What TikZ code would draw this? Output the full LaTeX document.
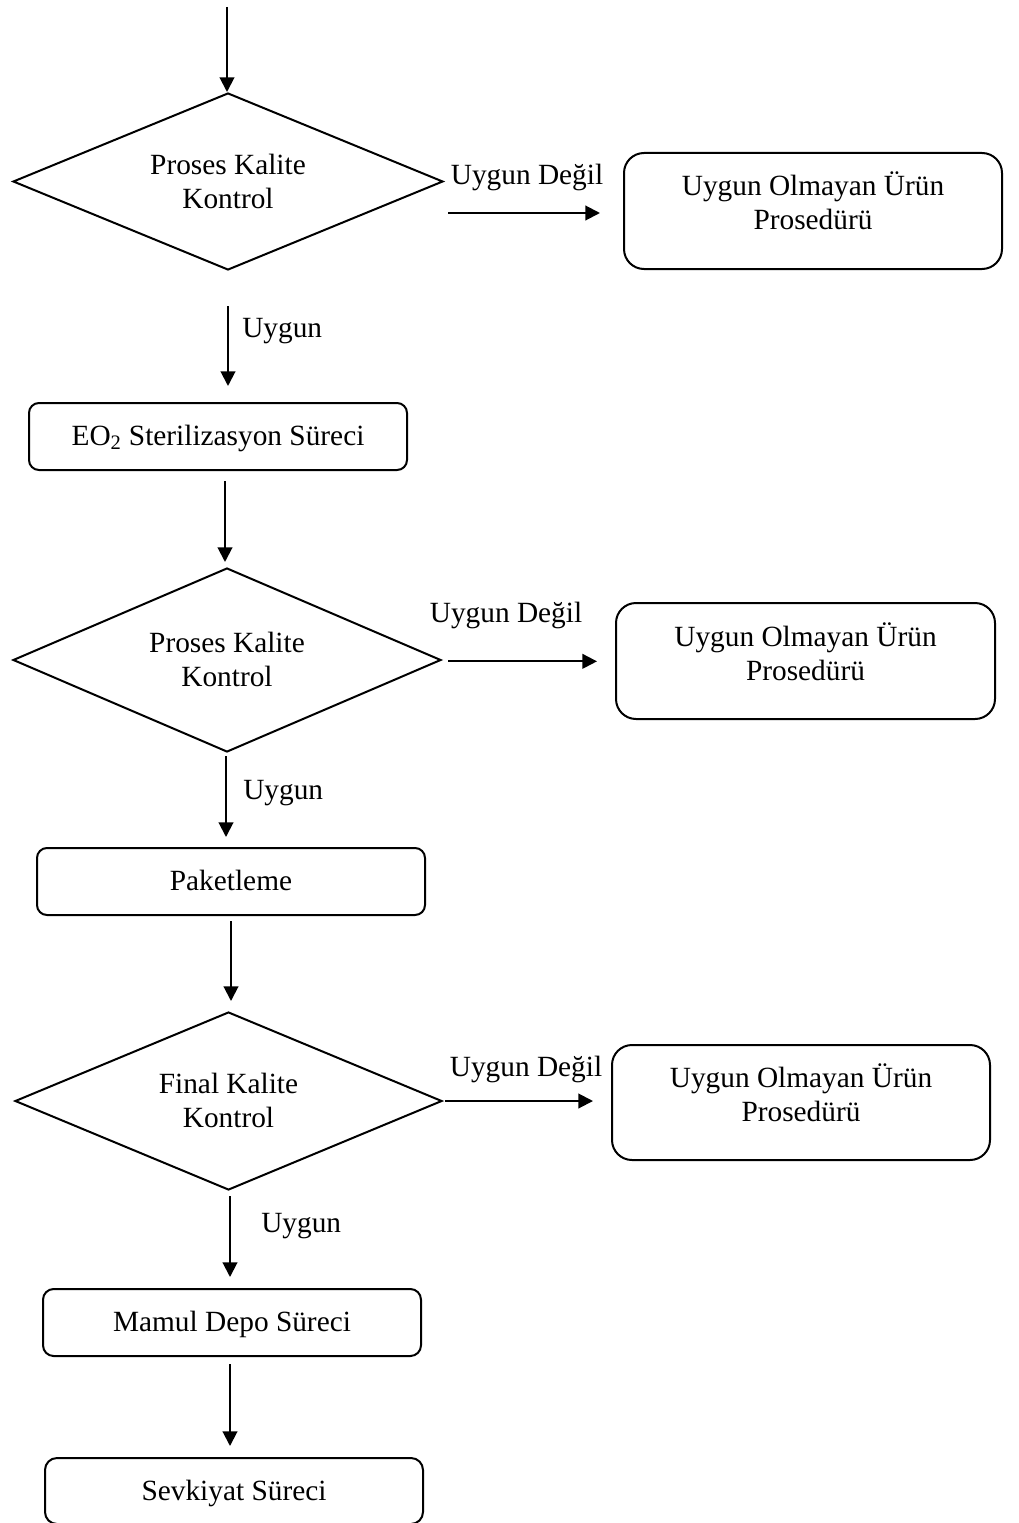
\documentclass[tikz,border=0pt]{standalone}
\usepackage{fontspec}
\setmainfont{Liberation Serif}
\usetikzlibrary{shapes.geometric,arrows.meta,calc}
\newcommand\twoln[2]{\begin{tabular}[t]{@{}c@{}}#1\\#2\end{tabular}}
\newcommand\dtext[2]{\makebox[0pt]{\twoln{#1}{#2}}}
\begin{document}
\begin{tikzpicture}[x=0.75pt,y=-0.75pt,
  every node/.style={font=\fontsize{22}{25.5}\selectfont},
  decision/.style={diamond,draw,line width=1.5pt,inner sep=0pt,text height=0pt,text depth=11pt},
  procbox/.style={rectangle,draw,line width=1.5pt,inner sep=0pt,rounded corners=#1,text height=15pt,text depth=1pt},
  procbox/.default=7.5pt,
  nokbox/.style={rectangle,draw,line width=1.5pt,inner sep=0pt,rounded corners=15pt,text height=17.85pt,text depth=40.35pt},
  flow/.style={line width=1.5pt,-{Triangle[length=11pt,width=11pt]}},
  lbl/.style={anchor=base,inner sep=0pt}
]
\useasboundingbox (0,0) rectangle (1018,1523);

% nodes
\coordinate (start) at (227,7);
\node[decision,minimum width=322.5pt,minimum height=132.75pt] (d1) at (228,181.5) {\dtext{Proses Kalite}{Kontrol}};
\node[nokbox,minimum width=283.5pt,minimum height=87pt] (n1) at (813,211) {\twoln{Uygun Olmayan Ürün}{Prosedürü}};
\node[procbox=7.5pt,minimum width=283.5pt,minimum height=50.25pt] (eo) at (218,436.5) {EO\textsubscript{2} Sterilizasyon Süreci};
\node[decision,minimum width=321pt,minimum height=138pt] (d2) at (227,660) {\dtext{Proses Kalite}{Kontrol}};
\node[nokbox,minimum width=284.25pt,minimum height=87pt] (n2) at (805.5,661) {\twoln{Uygun Olmayan Ürün}{Prosedürü}};
\node[procbox=7.5pt,minimum width=291pt,minimum height=50.25pt] (pak) at (231,881.5) {Paketleme};
\node[decision,minimum width=320.25pt,minimum height=133.5pt] (d3) at (228.5,1101) {\dtext{Final Kalite}{Kontrol}};
\node[nokbox,minimum width=283.5pt,minimum height=86.25pt] (n3) at (801,1102.5) {\twoln{Uygun Olmayan Ürün}{Prosedürü}};
\node[procbox=8pt,minimum width=283.5pt,minimum height=50.25pt] (mamul) at (232,1322.5) {Mamul Depo Süreci};
\node[procbox=9pt,minimum width=283.5pt,minimum height=49.5pt] (sevk) at (234,1491) {Sevkiyat Süreci};

% labels
\node[lbl] (l1) at (527,185) {Uygun Değil};
\node[lbl] (l2) at (506,622) {Uygun Değil};
\node[lbl] (l3) at (526,1076) {Uygun Değil};
\node[lbl,anchor=base west] (u1) at (242,337) {Uygun};
\node[lbl,anchor=base west] (u2) at (243,799) {Uygun};
\node[lbl,anchor=base west] (u3) at (261,1232) {Uygun};

% vertical connectors
\draw[flow] (start) -- (start |- d1.north);
\draw[flow,shorten <=26.25pt,shorten >=12pt] (d1.south) -- (d1.south |- eo.north);
\draw[flow,shorten <=7.5pt,shorten >=3.75pt] ([xshift=5.25pt]eo.south) -- ([xshift=5.25pt]eo.south |- d2.north);
\draw[flow,shorten <=2.25pt,shorten >=7.5pt] ([xshift=-0.75pt]d2.south) -- ([xshift=-0.75pt]d2.south |- pak.north);
\draw[flow,shorten <=3.75pt,shorten >=7.5pt] (pak.south) -- (pak.south |- d3.north);
\draw[flow,shorten <=3.75pt,shorten >=8.25pt] ([xshift=1.125pt]d3.south) -- ([xshift=1.125pt]d3.south |- mamul.north);
\draw[flow,shorten <=5.25pt,shorten >=8.25pt] ([xshift=-1.5pt]mamul.south) -- ([xshift=-1.5pt]mamul.south |- sevk.north);

% horizontal connectors
\draw[flow,shorten >=20.25pt] ([shift={(4,31.5)}]d1.east) -- ([shift={(4,31.5)}]d1.east -| n1.west);
\draw[flow,shorten <=4.5pt,shorten >=13.5pt] ([yshift=-1pt]d2.east) -- ([yshift=-1pt]d2.east -| n2.west);
\draw[flow,shorten <=1.5pt,shorten >=13.5pt] (d3.east) -- (d3.east -| n3.west);
\end{tikzpicture}
\end{document}
